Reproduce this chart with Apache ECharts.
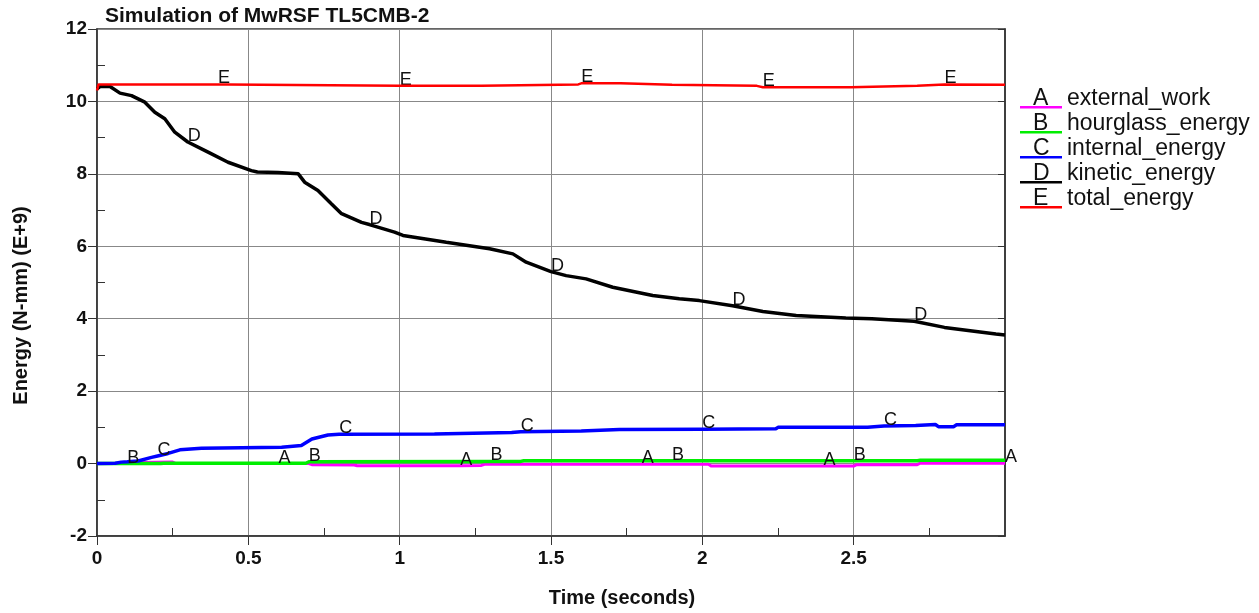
<!DOCTYPE html>
<html>
<head>
<meta charset="utf-8">
<script src="https://cdn.jsdelivr.net/npm/echarts@6/dist/echarts.min.js"></script>
<style>
  html, body { margin: 0; padding: 0; background: #fff; }
  #chart { width: 1259px; height: 613px; }
</style>
</head>
<body>
<div id="chart"></div>
<script>
// Energy histories, time in seconds, energy in E+9 N-mm
const letters = ['A', 'B', 'C', 'D', 'E'];
const seriesNames = ['external_work', 'hourglass_energy', 'internal_energy', 'kinetic_energy', 'total_energy'];
const seriesColors = ['#ff00ff', '#00ee00', '#0000ff', '#000000', '#ff0000'];

const timeA = [0, 0.10, 0.14, 0.25, 0.26, 0.6, 0.70, 0.71, 0.85, 0.86, 1.2, 1.27, 1.28, 1.8, 2.02, 2.03, 2.4, 2.50, 2.51, 2.71, 2.72, 3.0];
const valA  = [0, 0.01, 0.03, 0.04, 0.0, 0.0, 0.0, -0.03, -0.04, -0.06, -0.06, -0.05, -0.02, -0.02, -0.02, -0.07, -0.07, -0.07, -0.03, -0.03, 0.01, 0.01];

const timeB = [0, 0.1, 0.21, 0.22, 0.69, 0.7, 1.3, 1.40, 1.41, 1.9, 2.5, 2.71, 2.72, 3.0];
const valB  = [0, 0.0, 0.0, 0.01, 0.01, 0.05, 0.06, 0.06, 0.08, 0.08, 0.08, 0.08, 0.09, 0.09];

const timeC = [0, 0.06, 0.08, 0.1, 0.136, 0.18, 0.2, 0.235, 0.274, 0.345, 0.61, 0.675, 0.71, 0.763, 0.8, 1.115, 1.12, 1.37, 1.4, 1.6, 1.726, 2.0, 2.243, 2.25, 2.546, 2.55, 2.6, 2.705, 2.71, 2.77, 2.78, 2.83, 2.84, 3.0];
const valC  = [0, 0.01, 0.04, 0.05, 0.07, 0.17, 0.21, 0.28, 0.38, 0.42, 0.45, 0.50, 0.68, 0.79, 0.81, 0.82, 0.85, 0.86, 0.88, 0.90, 0.94, 0.95, 0.96, 1.0, 1.0, 1.04, 1.04, 1.05, 1.08, 1.08, 1.02, 1.02, 1.07, 1.07];

const timeD = [0, 0.01, 0.043, 0.076, 0.114, 0.158, 0.191, 0.224, 0.257, 0.3, 0.367, 0.433, 0.51, 0.53, 0.598, 0.665, 0.686, 0.73, 0.775, 0.808, 0.874, 0.9, 0.983, 1.011, 1.154, 1.297, 1.374, 1.418, 1.5, 1.55, 1.616, 1.704, 1.836, 1.924, 1.99, 2.1, 2.2, 2.31, 2.474, 2.56, 2.7, 2.8, 2.97, 3.0];
const valD  = [10.35, 10.41, 10.41, 10.23, 10.16, 9.98, 9.70, 9.52, 9.15, 8.88, 8.60, 8.32, 8.09, 8.05, 8.04, 8.0, 7.77, 7.54, 7.17, 6.90, 6.66, 6.60, 6.39, 6.30, 6.11, 5.93, 5.79, 5.56, 5.30, 5.19, 5.10, 4.87, 4.64, 4.55, 4.50, 4.36, 4.20, 4.09, 4.02, 4.00, 3.93, 3.76, 3.58, 3.55];

const timeE = [0, 0.005, 0.4, 0.43, 0.435, 1.0, 1.27, 1.275, 1.59, 1.595, 1.6, 1.73, 1.735, 1.90, 1.905, 2.18, 2.185, 2.2, 2.49, 2.495, 2.71, 2.715, 2.8, 3.0];
const valE  = [10.30, 10.47, 10.47, 10.47, 10.43, 10.43, 10.43, 10.47, 10.47, 10.50, 10.50, 10.50, 10.46, 10.46, 10.43, 10.43, 10.39, 10.39, 10.39, 10.43, 10.43, 10.47, 10.47, 10.46];

// curve letters are stamped every 0.6 s, staggered per curve
const labelTimesA = [0.6, 1.2, 1.8, 2.4, 3.0];
const labelTimesB = [0.1, 0.7, 1.3, 1.9, 2.5];
const labelTimesC = [0.2, 0.8, 1.4, 2.0, 2.6];
const labelTimesD = [0.3, 0.9, 1.5, 2.1, 2.7];
const labelTimesE = [0.4, 1.0, 1.6, 2.2, 2.8];

const xTicks = [0, 0.5, 1, 1.5, 2, 2.5];

const times = [timeA, timeB, timeC, timeD, timeE];
const vals = [valA, valB, valC, valD, valE];
const labelTimes = [labelTimesA, labelTimesB, labelTimesC, labelTimesD, labelTimesE];
const lineWidths = [3, 3.5, 3.5, 3.5, 2.5];

const FONT = '"Liberation Sans", Arial, sans-serif';

function pairs(t, v) { return t.map((x, i) => [x, v[i]]); }
function labelCoords(t, v, lt) {
  return lt.map(x => {
    const i = t.findIndex(tt => Math.abs(tt - x) < 1e-9);
    return { coord: [t[i], v[i]] };
  });
}

const series = seriesNames.map((name, k) => ({
  name: name,
  type: 'line',
  data: pairs(times[k], vals[k]),
  showSymbol: false,
  symbol: 'none',
  color: seriesColors[k],
  lineStyle: { color: seriesColors[k], width: lineWidths[k] },
  z: 2 + k,
  markPoint: {
    symbol: 'circle',
    symbolSize: 0.01,
    itemStyle: { color: 'rgba(0,0,0,0)' },
    silent: true,
    label: {
      show: true,
      formatter: letters[k],
      position: 'top',
      distance: 0,
      align: 'left',
      offset: [0, 3],
      color: '#111',
      fontFamily: FONT,
      fontSize: 18
    },
    data: labelCoords(times[k], vals[k], labelTimes[k])
  }
}));

// legend: letter stamped over each short line swatch
const legendTop = 82;
const legendPitch = 25;
const legendLetters = letters.map((l, k) => ({
  type: 'text',
  left: 1033,
  top: legendTop + k * legendPitch + 5,
  z: 100,
  style: { text: l, fill: '#111', font: '23px ' + FONT }
}));

const chart = echarts.init(document.getElementById('chart'), null, { renderer: 'canvas' });
chart.setOption({
  animation: false,
  backgroundColor: '#ffffff',
  title: {
    text: 'Simulation of MwRSF TL5CMB-2',
    left: 100,
    top: 1,
    textStyle: { fontFamily: FONT, fontWeight: 'bold', fontSize: 21, color: '#111' }
  },
  grid: {
    left: 97, right: 254, top: 29, bottom: 77,
    show: true, borderColor: '#333', borderWidth: 1.5, backgroundColor: 'transparent'
  },
  legend: {
    orient: 'vertical',
    left: 1011,
    top: legendTop,
    itemWidth: 46,
    itemHeight: 20,
    itemGap: 2,
    icon: 'path://M0,0L0.05,0L0.05,0.05Z M4,17.5L46,17.5L46,20L4,20Z',
    data: seriesNames,
    textStyle: { fontFamily: FONT, fontSize: 23, color: '#111' },
    selectedMode: false
  },
  graphic: legendLetters,
  xAxis: {
    type: 'value',
    min: 0, max: 3, interval: 0.5,
    name: 'Time (seconds)',
    nameLocation: 'middle',
    nameGap: 52,
    nameTextStyle: {
      fontFamily: FONT, fontWeight: 'bold', fontSize: 20, color: '#111',
      padding: [0, 0, 0, 142]
    },
    axisLine: { onZero: false, lineStyle: { color: '#333', width: 1.5 } },
    axisTick: { show: true, length: 9, customValues: xTicks, lineStyle: { color: '#333' } },
    minorTick: { show: true, splitNumber: 2, length: -8, lineStyle: { color: '#333' } },
    splitLine: { show: true, lineStyle: { color: '#888', width: 1 } },
    axisLabel: {
      margin: 13,
      fontFamily: FONT, fontWeight: 'bold', fontSize: 19, color: '#111',
      formatter: v => xTicks.some(t => Math.abs(t - v) < 1e-9) ? String(v) : ''
    }
  },
  yAxis: [{
    type: 'value',
    min: -2, max: 12, interval: 2,
    name: 'Energy (N-mm) (E+9)',
    nameLocation: 'middle',
    nameGap: 66,
    nameRotate: 90,
    nameTextStyle: {
      fontFamily: FONT, fontWeight: 'bold', fontSize: 20, color: '#111',
      padding: [0, 46, 0, 0]
    },
    axisLine: { show: true, onZero: false, lineStyle: { color: '#333', width: 1.5 } },
    axisTick: { show: true, length: 9, lineStyle: { color: '#333' } },
    minorTick: { show: true, splitNumber: 2, length: -8, lineStyle: { color: '#333' } },
    splitLine: { show: true, lineStyle: { color: '#888', width: 1 } },
    axisLabel: { margin: 10, fontFamily: FONT, fontWeight: 'bold', fontSize: 19, color: '#111' }
  }, {
    type: 'value',
    position: 'right',
    min: -2, max: 12, interval: 2,
    axisLine: { show: true, onZero: false, lineStyle: { color: '#333', width: 1.5 } },
    axisTick: { show: true, inside: true, length: 7, lineStyle: { color: '#333' } },
    splitLine: { show: false },
    axisLabel: { show: false }
  }],
  series: series
});
</script>
</body>
</html>
